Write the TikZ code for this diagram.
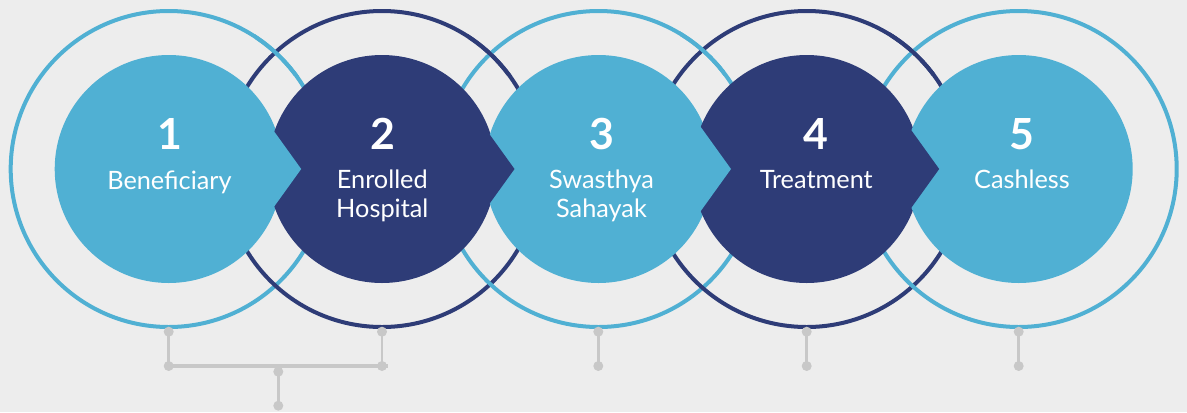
\documentclass[tikz,border=0pt]{standalone}
\usepackage{fontspec}
\setmainfont{Lato}
\definecolor{lb}{HTML}{50B0D3}
\definecolor{nv}{HTML}{2E3C77}
\definecolor{bgc}{HTML}{EDEDED}
\definecolor{gr}{HTML}{C8C8C8}
\begin{document}
\begin{tikzpicture}[x=1bp,y=-1bp,
  ring/.style={circle,draw,line width=4bp,minimum size=316bp,inner sep=0pt},
  disc/.style={circle,minimum size=228bp,inner sep=0pt},
  num/.style={text=white,font=\fontsize{43}{43}\selectfont\bfseries,anchor=base,inner sep=0pt},
  lab/.style={text=white,font=\fontsize{25.4}{28}\selectfont,anchor=base,inner sep=0pt},
  dot/.style={circle,fill=gr,minimum size=10bp,inner sep=0pt},
  conn/.style={draw=gr,line width=2.8bp},
  bar/.style={draw=gr,line width=4bp}]
\fill[bgc] (0,0) rectangle (1187,412);
\useasboundingbox (0,0) rectangle (1187,412);
% rings
\node[ring,draw=lb] (r1) at (168.7,169) {};
\node[ring,draw=nv] (r2) at (382,169) {};
\node[ring,draw=lb] (r3) at (598.5,169) {};
\node[ring,draw=nv] (r4) at (806.7,169) {};
\node[ring,draw=lb] (r5) at (1018.7,169) {};
% interlock: left ring over right ring at top crossing
\begin{scope}
\clip (255,30) rectangle (300,75);
\draw[lb,line width=4bp] (r1.center) circle[radius=158bp];
\end{scope}
\begin{scope}
\clip (468,30) rectangle (513,75);
\draw[nv,line width=4bp] (r2.center) circle[radius=158bp];
\end{scope}
\begin{scope}
\clip (680,30) rectangle (725,75);
\draw[lb,line width=4bp] (r3.center) circle[radius=158bp];
\end{scope}
\begin{scope}
\clip (890,30) rectangle (935,75);
\draw[nv,line width=4bp] (r4.center) circle[radius=158bp];
\end{scope}
% discs
\node[disc,fill=lb] (c1) at (168.7,169) {};
\node[disc,fill=nv] (c2) at (382,169) {};
\node[disc,fill=lb] (c3) at (598.5,169) {};
\node[disc,fill=nv] (c4) at (806.7,169) {};
\node[disc,fill=lb] (c5) at (1018.7,169) {};
% arrow tips
\fill[lb] (253.7,103) -- (301.2,169) -- (253.7,235) -- cycle;
\fill[nv] (467,103) -- (514.5,169) -- (467,235) -- cycle;
\fill[lb] (683.5,103) -- (731,169) -- (683.5,235) -- cycle;
\fill[nv] (891.7,103) -- (939.2,169) -- (891.7,235) -- cycle;
% texts
\node[num] (n1) at (169.5,149.5) {1};
\node[lab] (l1) at (169.5,189) {Beneficiary};
\node[num] (n2) at (382.5,149.5) {2};
\node[lab] (l2a) at (382.3,188) {Enrolled};
\node[lab] (l2b) at (382.3,217.5) {Hospital};
\node[num] (n3) at (602,149.5) {3};
\node[lab] (l3a) at (601.5,188) {Swasthya};
\node[lab] (l3b) at (601.5,217.5) {Sahayak};
\node[num] (n4) at (816,149.5) {4};
\node[lab] (l4) at (816.3,188) {Treatment};
\node[num] (n5) at (1022,149.5) {5};
\node[lab] (l5) at (1022,188) {Cashless};
% connectors
\node[dot] (d1a) at (168.7,331.7) {};
\node[dot] (d1b) at (168.7,366) {};
\node[dot] (d2a) at (382,331.7) {};
\node[dot] (d2b) at (382,366) {};
\coordinate (barend) at (388,366);
\node[dot] (dga) at (278.3,371.7) {};
\node[dot] (dgb) at (278.3,405.7) {};
\node[dot] (d3a) at (598.3,331.7) {};
\node[dot] (d3b) at (598.3,366) {};
\node[dot] (d4a) at (806.7,331.7) {};
\node[dot] (d4b) at (806.7,366) {};
\node[dot] (d5a) at (1018.7,331.7) {};
\node[dot] (d5b) at (1018.7,366) {};
\draw[conn] (d1a.center) -- (d1b.center);
\draw[conn] (d2a.center) -- (d2b.center);
\draw[bar] (d1b.center) -- (barend);
\draw[conn] (dga.center) -- (dgb.center);
\draw[conn] (d3a.center) -- (d3b.center);
\draw[conn] (d4a.center) -- (d4b.center);
\draw[conn] (d5a.center) -- (d5b.center);
\end{tikzpicture}
\end{document}
